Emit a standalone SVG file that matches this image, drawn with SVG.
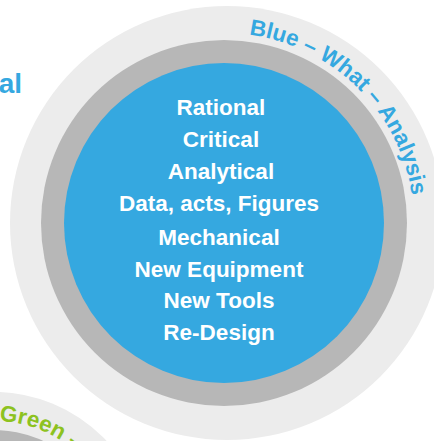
<svg xmlns="http://www.w3.org/2000/svg" xmlns:xlink="http://www.w3.org/1999/xlink" width="434" height="441" viewBox="0 0 434 441">
  <defs>
    <style>
      .light { fill: #ececec; }
      .ring { fill: #b7b7b7; }
      .core { fill: #35a8e0; }
      .label { font-family: "Liberation Sans", Arial, sans-serif; font-weight: bold; font-size: 22.5px; fill: #ffffff; text-anchor: middle; }
      .arc { font-family: "Liberation Sans", Arial, sans-serif; font-weight: bold; font-size: 22.5px; }
    </style>
    <path id="blueArc" d="M 224 33 A 190 190 0 0 1 411.1 256"/>
    <path id="greenArc" d="M -27.7 422.9 A 125 125 0 0 1 102.3 483.5"/>
  </defs>
  <rect width="434" height="441" fill="#ffffff"/>

  <g id="green-circle">
    <circle class="light" cx="-6" cy="546" r="154"/>
    <circle class="ring" cx="-6" cy="546" r="116"/>
    <text class="arc" fill="#8dc21f"><textPath xlink:href="#greenArc" startOffset="27">Green –</textPath></text>
  </g>

  <g id="left-title">
    <text x="22" y="92.5" font-family="Liberation Sans, Arial, sans-serif" font-weight="bold" font-size="28" fill="#35a8e0" text-anchor="end">al</text>
  </g>

  <g id="blue-circle">
    <circle class="light" cx="227" cy="223" r="217"/>
    <circle class="ring" cx="224" cy="223" r="183"/>
    <circle class="core" cx="224" cy="223" r="160"/>
    <text class="arc" fill="#35a8e0"><textPath xlink:href="#blueArc" startOffset="25">Blue – What – Analysis</textPath></text>
    <text class="label" x="221" y="115">Rational</text>
    <text class="label" x="221" y="147">Critical</text>
    <text class="label" x="221" y="179">Analytical</text>
    <text class="label" x="219" y="211">Data, acts, Figures</text>
    <text class="label" x="219" y="245">Mechanical</text>
    <text class="label" x="219" y="277">New Equipment</text>
    <text class="label" x="219" y="308">New Tools</text>
    <text class="label" x="219" y="340">Re-Design</text>
  </g>

  <g id="connectors"></g>
</svg>
